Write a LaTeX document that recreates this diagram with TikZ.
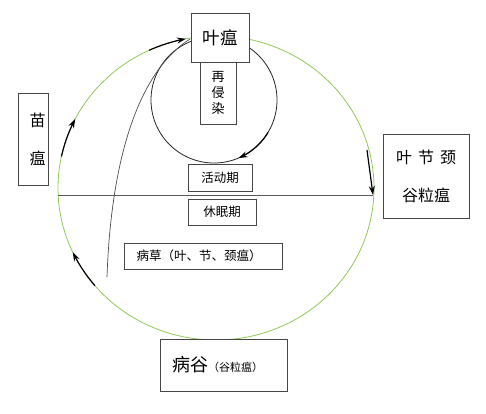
\documentclass[tikz,border=0pt]{standalone}
\usepackage{fontspec}
\setmainfont{Noto Sans CJK SC}
\usetikzlibrary{arrows.meta}
\definecolor{ringgreen}{RGB}{146,200,90}
\definecolor{boxline}{RGB}{70,70,70}
\begin{document}
\begin{tikzpicture}[x=1pt,y=-1pt,
  box/.style={draw=boxline, line width=0.9pt, fill=white, inner sep=0pt, align=center},
  tipline/.style={-{Stealth[length=9pt,width=6pt]}, line width=1.2pt, black},
  fs/.style={font=\fontsize{#1}{#1}\selectfont}]
\useasboundingbox (0,0) rectangle (486,413);
% big green ring
\draw[ringgreen, line width=0.8pt] (216,188) ellipse [x radius=158pt, y radius=152pt];
% small re-infection loop
\draw[black!85, line width=0.8pt] (214,100) circle [radius=63pt];
% long thin curve
\coordinate (cstart) at (107,277);
\coordinate (cend) at (190,39);
\draw[black!70, line width=0.7pt] (cstart) .. controls (111,160) and (138,72) .. (cend);
% horizontal divider
\coordinate (hl) at (58,195);
\coordinate (hr) at (373,195);
\draw[black!65, line width=1pt] (hl) -- (hr);

% nodes
\node[box, minimum width=58pt, minimum height=49pt, fs=17.5] (yw) at (220,37.5) {叶瘟};
\node[box, minimum width=36pt, minimum height=62pt, fs=13] (zqr) at (218,93) {再\\[3pt]侵\\[3pt]染};
\node[box, minimum width=30pt, minimum height=92pt, fs=16] (mw) at (33,139) {\hspace*{9pt}苗\\[22pt]\hspace*{9pt}瘟};
\node[box, minimum width=86pt, minimum height=84pt, fs=16] (jj) at (426,176) {叶\hspace{6pt}节\hspace{6pt}颈\\[22pt]谷粒瘟};
\node[box, minimum width=64pt, minimum height=27pt, fs=12.5] (hd) at (220,177.5) {活动期};
\node[box, minimum width=68pt, minimum height=26pt, fs=12.5] (xm) at (222,212) {休眠期};
\node[box, minimum width=158pt, minimum height=26pt, fs=12.5] (bc) at (203,256) {病草（叶、节、颈瘟）\hspace*{8pt}};
\node[box, minimum width=127pt, minimum height=52pt] (bg) at (223.5,365) {{\fontsize{18}{18}\selectfont 病谷}{\fontsize{11}{11}\selectfont（谷粒瘟）}\hspace*{12pt}};

% arrows on the ring
\draw[tipline] plot[domain=140:155, samples=12] ({216+158*cos(\x)},{188+152*sin(\x)});
\draw[tipline] plot[domain=192:207, samples=12] ({216+158*cos(\x)},{188+152*sin(\x)});
\draw[tipline] plot[domain=245:259, samples=12] ({216+158*cos(\x)},{188+152*sin(\x)});
\coordinate (ra) at (367,150);
\draw[tipline] (ra) -- (hr);
% arrow on the small loop
\draw[tipline] plot[domain=31:67, samples=15] ({214+63*cos(\x)},{100+63*sin(\x)});
\end{tikzpicture}
\end{document}
